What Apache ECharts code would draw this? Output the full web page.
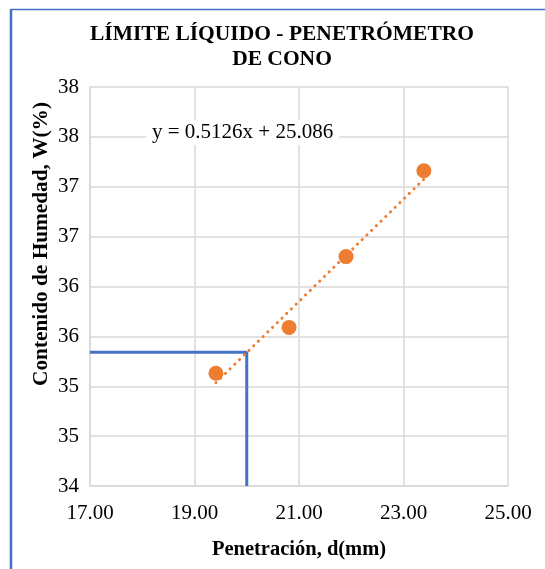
<!DOCTYPE html>
<html><head><meta charset="utf-8">
<script src="https://cdn.jsdelivr.net/npm/echarts@6/dist/echarts.min.js"></script>
<style>html,body{margin:0;padding:0;background:#fff}#c{width:545px;height:569px}</style>
</head><body><div id="c"></div>
<script>
var penetration = [19.41, 20.81, 21.90, 23.39];
var moisture = [35.13, 35.59, 36.30, 37.16];
var slope = 0.5126, intercept = 25.086;
var xTickLabels = ['17.00','19.00','21.00','23.00','25.00'];
var yTickLabels = ['34','35','35','36','36','37','37','38','38'];
var refX = 20.0;
var refY = 35.34;
var trendX = [19.41, 23.39];

var font = '"Liberation Serif", "Times New Roman", serif';
var chart = echarts.init(document.getElementById('c'));
var trend = trendX.map(function(x){return [x, slope*x+intercept];});
chart.setOption({
  animation:false,
  title:{text:'LÍMITE LÍQUIDO - PENETRÓMETRO\nDE CONO', left:277, top:17, textAlign:'center',
    textStyle:{fontFamily:font, fontWeight:'bold', fontSize:21.5, lineHeight:25, color:'#000'}},
  grid:{left:90, right:37, top:87, bottom:83},
  xAxis:{type:'value', min:17, max:25, interval:2,
    name:'Penetración, d(mm)', nameLocation:'middle', nameGap:53,
    nameTextStyle:{fontFamily:font, fontWeight:'bold', fontSize:20.5, color:'#000'},
    axisLine:{show:true, lineStyle:{color:'#d9d9d9', width:1.5}}, axisTick:{show:false},
    splitLine:{show:true, lineStyle:{color:'#d9d9d9', width:1.5}},
    axisLabel:{fontFamily:font, fontSize:21, color:'#000', margin:17,
      formatter:function(v){return xTickLabels[Math.round((v-17)/2)];}}},
  yAxis:{type:'value', min:34, max:38, interval:0.5,
    axisLine:{show:true, lineStyle:{color:'#d9d9d9', width:1.5}}, axisTick:{show:false},
    splitLine:{show:true, lineStyle:{color:'#d9d9d9', width:1.5}},
    axisLabel:{fontFamily:font, fontSize:21, color:'#000', margin:11,
      formatter:function(v){return yTickLabels[Math.round((v-34)/0.5)];}}},
  series:[
    {type:'line', data:[[17,refY],[refX,refY],[refX,34]], symbol:'none',
      lineStyle:{color:'#4472C4', width:3}, z:3},
    {type:'line', data:trend, symbol:'none',
      lineStyle:{color:'#ED7D31', width:3, type:[0.1,6.5], cap:'round'}, z:4},
    {type:'scatter', data:penetration.map(function(x,i){return [x, moisture[i]];}),
      symbolSize:15, itemStyle:{color:'#ED7D31', opacity:1}, z:5}
  ],
  graphic:[
    {type:'text', x:41, y:244, rotation:Math.PI/2, z:10,
      style:{text:'Contenido de Humedad, W(%)', fontFamily:font, fontWeight:'bold', fontSize:21.3,
        fill:'#000', align:'center', verticalAlign:'middle'}},
    {type:'text', left:146, top:120, z:10,
      style:{text:'y = 0.5126x + 25.086', fontFamily:font, fontSize:21, fill:'#000',
        backgroundColor:'#fff', padding:[2,6]}},
    {type:'line', shape:{x1:11, y1:9, x2:11, y2:569}, style:{stroke:'#4472C4', lineWidth:2.5}},
    {type:'line', shape:{x1:11, y1:9.5, x2:545, y2:9.5}, style:{stroke:'#4472C4', lineWidth:1.5}}
  ]
});
</script></body></html>
